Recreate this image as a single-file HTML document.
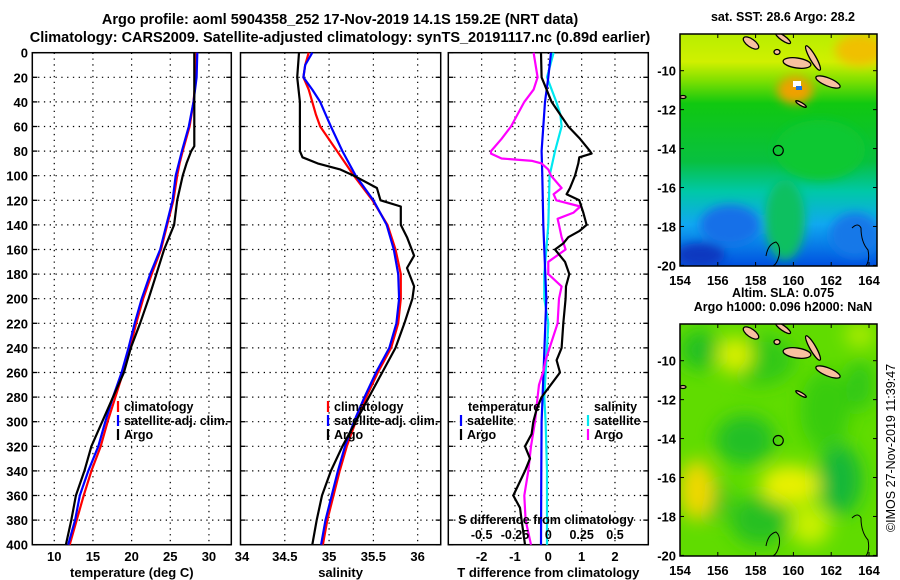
<!DOCTYPE html>
<html><head><meta charset="utf-8">
<style>
body{margin:0;background:#fff}
svg{display:block;font-family:"Liberation Sans",Arial,sans-serif;font-weight:bold}
text{fill:#000}
</style></head>
<body>
<svg id="fig" width="900" height="580" viewBox="0 0 900 580" xmlns="http://www.w3.org/2000/svg">
<defs>
<linearGradient id="sstg" x1="0" y1="0" x2="0" y2="1">
<stop offset="0" stop-color="#b8ee00"/><stop offset="0.12" stop-color="#d0f000"/><stop offset="0.2" stop-color="#80e000"/>
<stop offset="0.3" stop-color="#10c810"/><stop offset="0.55" stop-color="#08c040"/><stop offset="0.68" stop-color="#00c8a8"/>
<stop offset="0.82" stop-color="#10a8f0"/><stop offset="1" stop-color="#0050e0"/></linearGradient>
<filter id="blur"><feGaussianBlur stdDeviation="9"/></filter>
<filter id="blur2"><feGaussianBlur stdDeviation="5"/></filter>
<clipPath id="c1"><rect x="680" y="34" width="197" height="232"/></clipPath>
<clipPath id="c2"><rect x="680" y="324" width="197" height="232"/></clipPath>
</defs>
<text x="340" y="24" font-size="14.5" text-anchor="middle">Argo profile: aoml 5904358_252 17-Nov-2019 14.1S 159.2E (NRT data)</text>
<text x="340" y="42" font-size="14.5" text-anchor="middle">Climatology: CARS2009. Satellite-adjusted climatology: synTS_20191117.nc (0.89d earlier)</text>
<g id="panels"></g>
<g id="maps"></g>
</svg>
<script>
// depth grid
const depths=[0,20,40,60,80,90,100,120,140,160,180,200,220,240,260,280,300,320,340,360,380,400];
// temperature (deg C)
const tClim=[28.4,28.3,28.0,27.5,26.6,26.2,25.9,25.4,24.6,23.8,22.6,21.5,20.6,19.8,18.9,17.9,16.9,16.0,14.8,13.8,12.9,12.0];
const tSat=[28.5,28.4,28.0,27.4,26.5,26.1,25.7,25.3,24.5,23.7,22.4,21.3,20.4,19.6,18.7,17.6,16.6,15.7,14.4,13.3,12.7,11.8];
const tArgoD=[0,20,40,60,76,80,90,100,120,140,160,180,200,220,240,260,280,300,320,340,360,380,400];
const tArgo=[28.1,28.1,28.1,28.1,28.1,27.7,27.1,26.6,25.9,25.5,24.2,23.2,22.2,21.1,19.9,19.0,17.6,16.2,14.8,13.9,12.8,12.2,11.5];
// salinity
const sClimD=[0,10,20,30,40,50,60,80,100,120,140,160,180,200,220,240,260,280,300,320,340,360,380,400];
const sClim=[34.77,34.73,34.71,34.77,34.81,34.85,34.90,35.09,35.28,35.49,35.66,35.75,35.81,35.81,35.78,35.70,35.55,35.42,35.30,35.20,35.12,35.05,34.98,34.93];
const sSat=[34.81,34.73,34.71,34.81,34.90,34.96,35.02,35.15,35.30,35.50,35.65,35.73,35.78,35.79,35.76,35.68,35.53,35.40,35.28,35.18,35.10,35.03,34.96,34.91];
const sArgoD=[0,20,40,60,80,85,90,95,100,110,120,125,140,150,165,175,190,200,220,240,260,280,300,320,340,360,380,400];
const sArgo=[34.66,34.64,34.67,34.67,34.67,34.70,34.87,35.13,35.28,35.54,35.58,35.81,35.81,35.88,35.96,35.88,35.96,35.94,35.85,35.75,35.60,35.45,35.30,35.15,35.02,34.92,34.86,34.81];
// differences from climatology
const dTArgoD=[0,20,30,40,50,60,70,80,82,85,90,100,110,115,120,130,140,145,150,155,160,170,180,190,200,220,240,250,260,280,290,300,310,320,330,340,360,370,380,390,400];
const dTArgo=[-0.22,-0.2,-0.05,0.1,0.35,0.6,0.95,1.25,1.3,0.93,0.9,0.8,0.65,0.55,0.93,1.05,1.15,0.93,0.6,0.45,0.2,0.5,0.63,0.53,0.52,0.45,0.4,0.25,0.35,-0.2,-0.35,-0.45,-0.5,-0.7,-0.55,-0.7,-1.05,-0.85,-0.8,-0.75,-0.7];
const dSArgoD=[0,20,30,40,60,70,80,82,86,88,90,95,100,110,115,120,125,130,135,140,150,160,170,180,190,200,220,240,250,260,270,280,290,300,320,340,360,380,400];
const dSArgo=[-0.11,-0.08,-0.11,-0.18,-0.28,-0.35,-0.43,-0.43,-0.35,-0.12,-0.05,0.0,0.02,0.1,0.04,0.06,0.24,0.19,0.07,0.08,0.1,0.13,0.0,0.0,0.1,0.08,0.07,0.01,-0.02,-0.04,-0.07,-0.08,-0.09,-0.1,-0.13,-0.15,-0.18,-0.17,-0.13];
const dTSatD=[0,20,40,60,80,100,140,200,250,300,340,400];
const dTSat=[0.08,0.0,-0.1,-0.15,-0.2,-0.18,-0.15,-0.06,-0.13,-0.2,-0.21,-0.22];
const dSSatD=[0,20,40,50,60,80,100,140,180,200,220,240,280,300,340,400];
const dSSat=[0.04,-0.01,0.06,0.09,0.1,0.05,0.01,0.0,-0.03,-0.03,0.0,-0.01,-0.03,-0.02,-0.01,-0.01];
const depthTicks=[0,20,40,60,80,100,120,140,160,180,200,220,240,260,280,300,320,340,360,380,400];
const tTicks=[10,15,20,25,30];
const sTicks=[34.5,35,35.5,36];
const dTicks=[-2,-1,0,1,2];
const dSTickLabels=["-0.5","-0.25","0","0.25","0.5"];
const dSTickVals=[-0.5,-0.25,0,0.25,0.5];

const NS='http://www.w3.org/2000/svg';
const TOP=52.7,BOT=544.7,DMAX=400;
function yD(d){return TOP+(BOT-TOP)*d/DMAX;}
function mk(tag,attrs,parent){const e=document.createElementNS(NS,tag);for(const k in attrs)e.setAttribute(k,attrs[k]);parent.appendChild(e);return e;}
const P=document.getElementById('panels');
function makeAxis(x0,x1,vmin,vmax){return v=>x0+(x1-x0)*(v-vmin)/(vmax-vmin);}
const panels=[
 {name:'temperature',x0:32.3,x1:231.3,vmin:7.16,vmax:32.89},
 {name:'salinity',x0:240.5,x1:440.7,vmin:34.0,vmax:36.26},
 {name:'difference',x0:448.3,x1:648.3,vmin:-3,vmax:3}
];
panels.forEach(p=>{p.x=makeAxis(p.x0,p.x1,p.vmin,p.vmax);});
function line(p,ds,vs,color,name,scale){
  const pts=ds.map((d,i)=>p.x(vs[i]*(scale||1)).toFixed(1)+','+yD(d).toFixed(1)).join(' ');
  const e=mk('polyline',{points:pts,fill:'none',stroke:color,'stroke-width':2.2,'stroke-linejoin':'round'},P);
  
  
}
function txt(x,y,s,size,anchor,name,parent,color){
  const e=mk('text',{x:x,y:y,'font-size':size,'text-anchor':anchor||'start'},parent||P);
  if(color)e.setAttribute('style','fill:'+color);
  e.textContent=s;
  
  
  return e;
}
function frame(p,xticks,xlabels,title){
  const g=mk('g',{},P);
  
  
  depthTicks.forEach(d=>{
    if(d>0&&d<400) mk('line',{x1:p.x0,x2:p.x1,y1:yD(d),y2:yD(d),stroke:'#000','stroke-width':1.2,'stroke-dasharray':'1.3 4.5'},g);
    mk('line',{x1:p.x0,x2:p.x0+5,y1:yD(d),y2:yD(d),stroke:'#000','stroke-width':1.3},g);
    mk('line',{x1:p.x1-5,x2:p.x1,y1:yD(d),y2:yD(d),stroke:'#000','stroke-width':1.3},g);
  });
  xticks.forEach((v,i)=>{
    const x=p.x(v);
    mk('line',{x1:x,x2:x,y1:TOP,y2:BOT,stroke:'#000','stroke-width':1.2,'stroke-dasharray':'1.3 4.5'},g);
    txt(x,561,xlabels[i],13,'middle','x-tick-label',g);
  });
  mk('rect',{x:p.x0,y:TOP,width:p.x1-p.x0,height:BOT-TOP,fill:'none',stroke:'#000','stroke-width':1.5},g);
  txt((p.x0+p.x1)/2,577,title,13,'middle','x-axis-title',g);
}
frame(panels[0],tTicks,tTicks.map(String),'temperature (deg C)');
txt(242,561,'34',13,'middle','x-tick-label');
frame(panels[1],sTicks,sTicks.map(String),'salinity');
frame(panels[2],dTicks,dTicks.map(String),'T difference from climatology');
depthTicks.forEach(d=>txt(28,yD(d)+5,String(d),13,'end','y-tick-label'));
line(panels[0],depths,tClim,'#ff0000','temp-climatology-line');
line(panels[0],depths,tSat,'#0000ff','temp-satellite-line');
line(panels[0],tArgoD,tArgo,'#000','temp-argo-line');
line(panels[1],sClimD,sClim,'#ff0000','sal-climatology-line');
line(panels[1],sClimD,sSat,'#0000ff','sal-satellite-line');
line(panels[1],sArgoD,sArgo,'#000','sal-argo-line');
line(panels[2],dSSatD,dSSat,'#00e8f0','s-diff-satellite-line',4);
line(panels[2],dTSatD,dTSat,'#0000ff','t-diff-satellite-line');
line(panels[2],dSArgoD,dSArgo,'#ff00ff','s-diff-argo-line',4);
line(panels[2],dTArgoD,dTArgo,'#000','t-diff-argo-line');
function leg(x,y,color,label){
  const g=mk('g',{},P);
  
  
  if(color) mk('line',{x1:x,x2:x,y1:y-10,y2:y+1,stroke:color,'stroke-width':2.2},g);
  txt(x+6,y,label,12.5,'start','legend-label',g);
}
[[118,'#ff0000','climatology'],[118,'#0000ff','satellite-adj. clim.'],[118,'#000','Argo']].forEach((a,i)=>leg(a[0],411+i*14,a[1],a[2]));
[[328,'#ff0000','climatology'],[328,'#0000ff','satellite-adj. clim.'],[328,'#000','Argo']].forEach((a,i)=>leg(a[0],411+i*14,a[1],a[2]));
txt(468,411,'temperature',12.5,'start','legend-title');
leg(461,425,'#0000ff','satellite');leg(461,439,'#000','Argo');
txt(594,411,'salinity',12.5,'start','legend-title');
leg(588,425,'#00e8f0','satellite');leg(588,439,'#ff00ff','Argo');
txt(546,524,'S difference from climatology',12.5,'middle','s-axis-title');
dSTickVals.forEach((v,i)=>txt(panels[2].x(v*4),539,dSTickLabels[i],12.5,'middle','s-tick-label'));

const M=document.getElementById('maps');
const lonTicks=[154,156,158,160,162,164];
const latTicks=[-10,-12,-14,-16,-18,-20];
function mx(lon){return 680+(lon-154)*18.9;}
function my(lat,top){return top+36.7+(-lat-10)*19.47;}
function islands(g,top){
  const off=top-34;
  const isl=[[797,63+off,14,5,8],[813,58+off,14,3,60],[828,82+off,13,4,22],[751,43+off,9,4,35],[783,38+off,9,2.5,35],[801,104+off,6,1.5,30],[777,52+off,3,2.5,0],[683,97+off,3,1.5,0]];
  isl.forEach(a=>{const e=mk('ellipse',{cx:a[0],cy:a[1],rx:a[2],ry:a[3],transform:`rotate(${a[4]} ${a[0]} ${a[1]})`,fill:'#f8c0a0',stroke:'#000','stroke-width':1.3},g);
    });
  mk('path',{d:`M766 ${256+off} q2 -12 10 -14 q5 4 3 14 q-2 8 -6 10 M852 ${228+off} q6 -6 9 0 q0 14 7 22 q2 10 -2 16`,fill:'none',stroke:'#000','stroke-width':1},g);
}
function mapFrame(top,title1,title2,name,drawField){
  const g=mk('g',{},M);
  
  
  const f=mk('g',{'clip-path':`url(#${top<100?'c1':'c2'})`},g);
  drawField(f,top);
  islands(f,top);
  const cx=mx(159.2),cy=my(-14.1,top);
  mk('circle',{cx:cx,cy:cy,r:5,fill:'none',stroke:'#000','stroke-width':1.2},f);
  mk('rect',{x:680,y:top,width:197,height:232,fill:'none',stroke:'#000','stroke-width':1.5},g);
  lonTicks.forEach(l=>{const x=mx(l);mk('line',{x1:x,x2:x,y1:top,y2:top+4,stroke:'#000'},g);mk('line',{x1:x,x2:x,y1:top+228,y2:top+232,stroke:'#000'},g);
    txt(x,top+251,String(l),13,'middle','map-lon-label',g);});
  latTicks.forEach(l=>{const y=my(l,top);mk('line',{x1:680,x2:684,y1:y,y2:y,stroke:'#000'},g);mk('line',{x1:873,x2:877,y1:y,y2:y,stroke:'#000'},g);
    txt(676,y+5,String(l),13,'end','map-lat-label',g);});
  txt(783,top-13-(title2?14:0),title1,12.5,'middle','map-title',g);
  if(title2) txt(783,top-13,title2,12.5,'middle','map-subtitle',g);
}
mapFrame(34,'sat. SST: 28.6 Argo: 28.2',null,'sst-map',(f,top)=>{
  mk('rect',{x:680,y:top,width:197,height:232,fill:'url(#sstg)'},f);
  const b=mk('g',{filter:'url(#blur2)'},f);
  mk('ellipse',{cx:795,cy:90,rx:18,ry:14,fill:'#f0a000'},b);
  mk('ellipse',{cx:860,cy:50,rx:25,ry:16,fill:'#f0c000'},b);
  mk('ellipse',{cx:785,cy:220,rx:20,ry:40,fill:'#10c060'},b);
  mk('ellipse',{cx:730,cy:225,rx:30,ry:20,fill:'#1870e8'},b);
  mk('ellipse',{cx:700,cy:255,rx:25,ry:12,fill:'#0838c0'},b);
  mk('ellipse',{cx:855,cy:235,rx:25,ry:22,fill:'#1878e8'},b);
  mk('ellipse',{cx:820,cy:150,rx:45,ry:30,fill:'#10c830'},b);
  mk('rect',{x:793,y:81,width:8,height:6,fill:'#fff'},f);
  mk('rect',{x:796,y:86,width:6,height:4,fill:'#2070e0'},f);
});
mapFrame(324,'Altim. SLA: 0.075','Argo h1000: 0.096 h2000: NaN','sla-map',(f,top)=>{
  mk('rect',{x:680,y:top,width:197,height:232,fill:'#60dc00'},f);
  const b=mk('g',{filter:'url(#blur)'},f);
  const o=top-34;
  [[700,60,20,20,'#20c020'],[760,70,35,25,'#30c818'],[745,150,30,25,'#20c028'],[825,120,25,40,'#38cc10'],[840,190,22,35,'#18b838'],[760,230,30,25,'#28c020'],[710,210,20,20,'#30c020'],[860,95,15,25,'#30c818']].forEach(a=>mk('ellipse',{cx:a[0],cy:a[1]+o,rx:a[2],ry:a[3],fill:a[4]},b));
  [[790,195,30,20,'#e8f000'],[697,200,18,30,'#f0d800'],[735,65,18,18,'#d8f000'],[810,235,20,20,'#c8f000'],[860,45,15,12,'#b0ec00']].forEach(a=>mk('ellipse',{cx:a[0],cy:a[1]+o,rx:a[2],ry:a[3],fill:a[4]},b));
});
const cr=txt(0,0,'©IMOS 27-Nov-2019 11:39:47',12.5,'middle','imos-credit',M);
cr.setAttribute('transform','translate(895,448) rotate(-90)');
cr.setAttribute('font-weight','normal');
</script>
</body></html>
